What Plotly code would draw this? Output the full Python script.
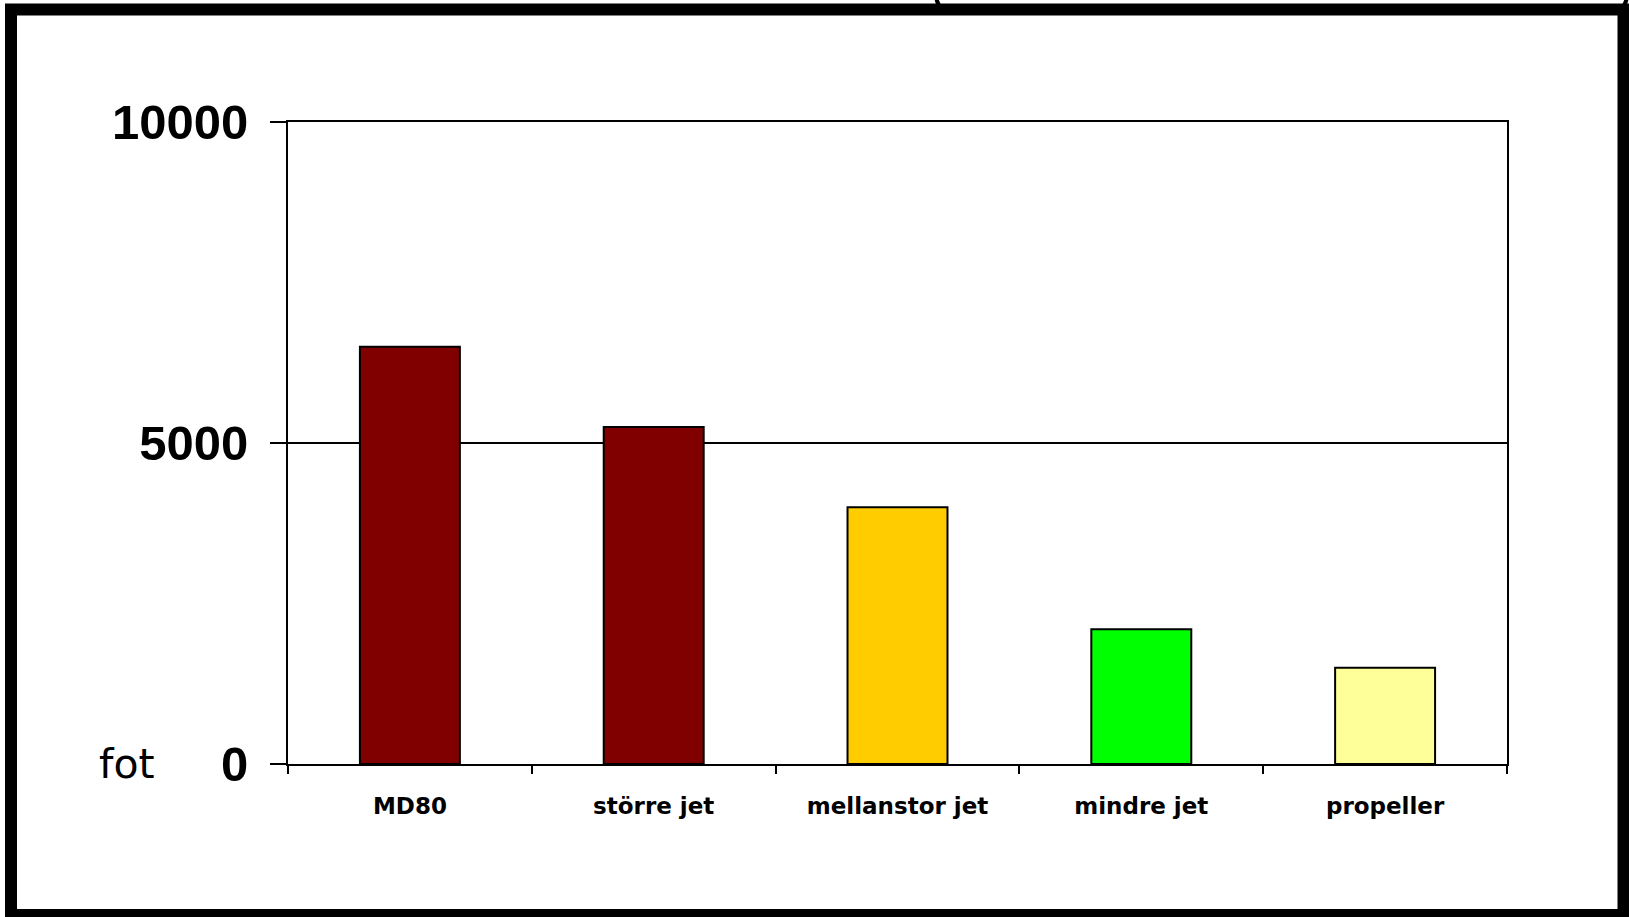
import plotly.graph_objects as go

categories = ["MD80", "större jet", "mellanstor jet", "mindre jet", "propeller"]
values = [6500, 5250, 4000, 2100, 1500]
colors = ["#800000", "#800000", "#FFCC00", "#00FF00", "#FFFF99"]
y_ticks = [0, 5000, 10000]
y_unit = "fot"

W, H = 1629, 917
L, R, T, B = 288, 122, 122, 153
PW, PH = W - L - R, H - T - B


def px(x):
    return (x - L) / PW


def py(y):
    return (H - B - y) / PH


fig = go.Figure(
    go.Bar(
        x=categories,
        y=values,
        marker=dict(color=colors, line=dict(color="black", width=2)),
        width=0.41,
    )
)

shapes = [
    # outer frame
    dict(type="rect", xref="paper", yref="paper",
         x0=px(11), x1=px(1623.5), y0=py(9.5), y1=py(915),
         line=dict(color="black", width=12), fillcolor="rgba(0,0,0,0)", layer="above"),
    # rounded box at top right
    dict(type="path", xref="paper", yref="paper",
         path=f"M {px(936)},{py(-5)} Q {px(937)},{py(12)} {px(954)},{py(12)} "
              f"L {px(1610)},{py(12)} Q {px(1626)},{py(12)} {px(1627)},{py(-5)}",
         line=dict(color="black", width=4), layer="above"),
]

fig.update_layout(
    width=W, height=H,
    margin=dict(l=L, r=R, t=T, b=B, pad=0),
    paper_bgcolor="white", plot_bgcolor="white",
    showlegend=False,
    bargap=0.59,
    shapes=shapes,
    annotations=[
        dict(text=y_unit, xref="paper", yref="y", x=px(157), y=0,
             xanchor="right", yanchor="middle", showarrow=False,
             font=dict(family="DejaVu Sans", size=41, color="black"))
    ],
)

fig.update_xaxes(
    showline=True, linecolor="black", linewidth=2, mirror=True,
    ticks="outside", ticklen=8, tickwidth=2, tickcolor="black",
    tickson="boundaries", showgrid=False,
    tickfont=dict(family="DejaVu Sans", size=23, color="black", weight="bold"),
    ticklabelstandoff=20,
)
fig.update_yaxes(
    range=[0, 10000], tickvals=y_ticks, ticktext=[str(v) for v in y_ticks],
    showline=True, linecolor="black", linewidth=2, mirror=True,
    ticks="outside", ticklen=16, tickwidth=2, tickcolor="black",
    showgrid=True, gridcolor="black", gridwidth=2, zeroline=False,
    tickfont=dict(family="Liberation Sans", size=49, color="black", weight="bold"),
    ticklabelstandoff=12,
)

fig.write_html("out.html")
